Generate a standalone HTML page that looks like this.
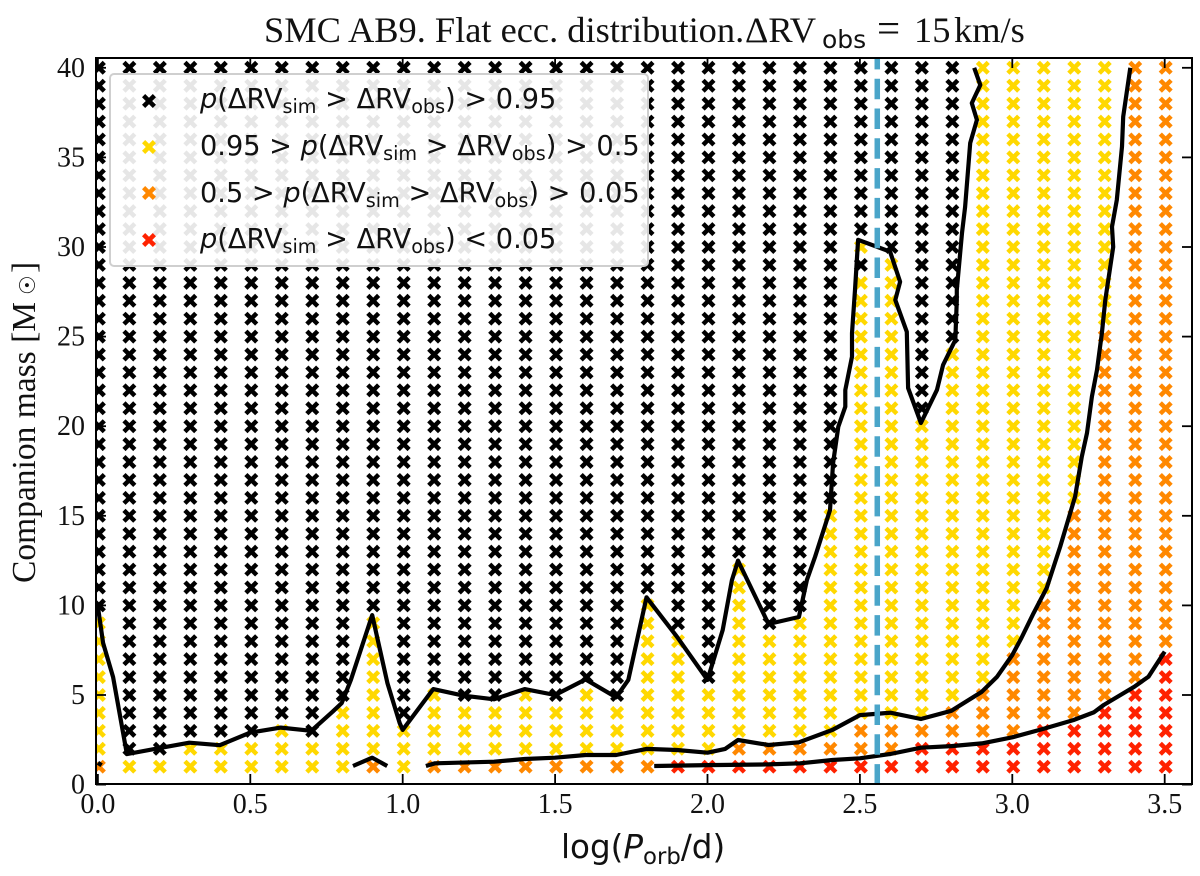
<!DOCTYPE html>
<html lang="en">
<head>
<meta charset="utf-8">
<title>SMC AB9 detection probability chart</title>
<style>
html,body{margin:0;padding:0;background:#fff;}
svg{display:block;}
.serif{font-family:"Liberation Serif",serif;fill:#111;}
.sans{font-family:"DejaVu Sans",sans-serif;fill:#111;}
</style>
</head>
<body>
<svg id="chart" xmlns="http://www.w3.org/2000/svg" width="1200" height="876" viewBox="0 0 1200 876">
<defs><clipPath id="plot-clip"><rect x="96" y="58" width="1096" height="726"/></clipPath></defs>
<rect x="0" y="0" width="1200" height="876" fill="#fff"/>
<g id="markers" clip-path="url(#plot-clip)"></g>
<g id="contours" clip-path="url(#plot-clip)"></g>
<g id="axes"></g>

<g>
<rect x="110" y="74" width="538" height="192" rx="4" fill="#fff" fill-opacity="0.9" stroke="#cfcfcf" stroke-width="2"/>
<g id="legend-markers"></g>
<text class="sans" x="200" y="108" font-size="27.2"><tspan font-style="italic">p</tspan>(ΔRV<tspan font-size="19.2" dy="5">sim</tspan><tspan dy="-5"> &gt; ΔRV</tspan><tspan font-size="19.2" dy="5">obs</tspan><tspan dy="-5">) &gt; 0.95</tspan></text>
<text class="sans" x="200" y="155" font-size="27.2">0.95 &gt; <tspan font-style="italic">p</tspan>(ΔRV<tspan font-size="19.2" dy="5">sim</tspan><tspan dy="-5"> &gt; ΔRV</tspan><tspan font-size="19.2" dy="5">obs</tspan><tspan dy="-5">) &gt; 0.5</tspan></text>
<text class="sans" x="200" y="202" font-size="27.2">0.5 &gt; <tspan font-style="italic">p</tspan>(ΔRV<tspan font-size="19.2" dy="5">sim</tspan><tspan dy="-5"> &gt; ΔRV</tspan><tspan font-size="19.2" dy="5">obs</tspan><tspan dy="-5">) &gt; 0.05</tspan></text>
<text class="sans" x="200" y="248" font-size="27.2"><tspan font-style="italic">p</tspan>(ΔRV<tspan font-size="19.2" dy="5">sim</tspan><tspan dy="-5"> &gt; ΔRV</tspan><tspan font-size="19.2" dy="5">obs</tspan><tspan dy="-5">) &lt; 0.05</tspan></text>
</g>

<text class="serif" x="264" y="42" font-size="36.4">SMC AB9. Flat ecc. distribution.<tspan x="745">ΔRV</tspan><tspan class="sans" font-size="25" x="822" dy="6">obs</tspan><tspan x="877" dy="-6" font-size="41">=</tspan><tspan x="914">15</tspan><tspan x="954">km/s</tspan></text>
<text class="serif" transform="translate(35,583) rotate(-90)" x="0" y="0" font-size="33.5">Companion mass [M<tspan class="sans" font-size="22" x="288">☉</tspan><tspan x="310">]</tspan></text>
<text class="sans" x="561" y="858" font-size="32.6">log(<tspan font-style="italic">P</tspan><tspan font-size="22.8" dy="6">orb</tspan><tspan dy="-6">/d)</tspan></text>

<script>
// Column positions (log orbital period) and mass rows
const periods = [0.0,0.1,0.2,0.3,0.4,0.5,0.6,0.7,0.8,0.9,1.0,1.1,1.2,1.3,1.4,1.5,1.6,1.7,1.8,1.9,2.0,2.1,2.2,2.3,2.4,2.5,2.6,2.7,2.8,2.9,3.0,3.1,3.2,3.3,3.4,3.5];
const massRows = [1,2,3,4,5,6,7,8,9,10,11,12,13,14,15,16,17,18,19,20,21,22,23,24,25,26,27,28,29,30,31,32,33,34,35,36,37,38,39,40];
// Highest mass in each probability class, per column
const redTop    = [0,0,0,0,0,0,0,0,0,0,0,0,0,0,0,0,0,0,0,1,1,1,1,1,1,1,1,2,2,2,2,3,3,4,5,7];
const orangeTop = [1,0,0,0,0,0,0,0,0,1,0,1,1,1,1,1,1,1,1,1,1,2,2,2,2,3,3,3,4,5,7,10,15,25,40,40];
const yellowTop = [9,1,1,2,2,2,3,2,4,9,3,5,4,4,5,4,5,4,10,8,5,12,8,9,15,30,29,20,24,40,40,40,40,40,40,40];
// Single grid points that break the class pattern: period, then mass
const blackExceptionPeriods = [2.5];
const blackExceptionMasses = [29];

// Contour lines
const contourAX = [0.0,0.017,0.05,0.095,0.2,0.3,0.4,0.5,0.6,0.7,0.77,0.8,0.83,0.9,0.95,0.99,1.0,1.1,1.2,1.3,1.4,1.5,1.6,1.7,1.74,1.8,1.9,2.0,2.05,2.08,2.1,2.2,2.3,2.326,2.353,2.402,2.412,2.429,2.452,2.452,2.474,2.474,2.484,2.494,2.599,2.632,2.616,2.654,2.658,2.7,2.753,2.773,2.813,2.818,2.818,2.835,2.845,2.862,2.884,2.867,2.895,2.875];
const contourAY = [9.93,7.9,6.0,1.7,2.03,2.34,2.2,2.9,3.18,3.0,4.07,4.55,5.84,9.46,5.65,3.43,3.05,5.33,4.96,4.76,5.33,5.0,5.87,4.87,5.84,10.45,8.25,5.84,8.63,11.4,12.5,8.96,9.35,11.42,12.72,15.32,17.95,19.97,21.09,22.02,23.88,25.2,27.6,30.4,29.74,28.06,27.04,25.27,22.13,20.18,22.03,23.42,24.81,27.04,27.6,30.78,32.23,35.8,37.09,38.03,39.04,40.0];
const contourBX = [1.076,1.106,1.3,1.4,1.5,1.6,1.7,1.8,1.9,2.0,2.058,2.1,2.2,2.3,2.41,2.5,2.6,2.7,2.8,2.9,2.95,3.0,3.03,3.07,3.113,3.157,3.206,3.228,3.245,3.261,3.278,3.294,3.305,3.331,3.327,3.343,3.36,3.364,3.387];
const contourBY = [1.04,1.19,1.28,1.43,1.5,1.65,1.65,1.99,1.93,1.78,1.99,2.49,2.21,2.36,3.05,3.88,4.01,3.66,4.12,5.18,6.02,7.23,8.18,9.57,10.97,13.28,16.07,18.3,19.62,21.65,23.14,25.2,27.04,30.0,31.13,32.62,35.6,37.27,40.0];
const contourCX = [1.825,2.0,2.2,2.304,2.41,2.5,2.6,2.7,2.8,2.9,3.0,3.1,3.2,3.267,3.3,3.4,3.447,3.5];
const contourCY = [1.04,1.09,1.13,1.19,1.37,1.47,1.71,2.06,2.15,2.3,2.64,3.1,3.6,4.03,4.44,5.46,6.02,7.42];
const contourDX = [0.837,0.9,0.949];
const contourDY = [1.04,1.5,1.04];
const contourEX = [0.0,0.012];
const contourEY = [1.22,1.08];

// Observed period marker
const observedPeriod = [2.557];

// Axis tick labels
const xTicks = [0.0,0.5,1.0,1.5,2.0,2.5,3.0,3.5];
const xTickLabels = ['0.0','0.5','1.0','1.5','2.0','2.5','3.0','3.5'];
const yTicks = [0,5,10,15,20,25,30,35,40];
const yTickLabels = ['0','5','10','15','20','25','30','35','40'];

const NS = 'http://www.w3.org/2000/svg';
const PLOT = {left:96, right:1192, top:58, bottom:784};
function xScale(v){ return 97.9 + 304.8 * v; }
function yScale(v){ return 784.6 - 17.92 * v; }

const COLORS = {black:'#000000', yellow:'#ffd800', orange:'#ff8800', red:'#ff2200'};
function classFor(i, mass){
  for (let k = 0; k < blackExceptionPeriods.length; k++) {
    if (Math.abs(periods[i] - blackExceptionPeriods[k]) < 1e-6 && mass === blackExceptionMasses[k]) return 'black';
  }
  if (mass <= redTop[i]) return 'red';
  if (mass <= orangeTop[i]) return 'orange';
  if (mass <= yellowTop[i]) return 'yellow';
  return 'black';
}
function drawCross(parent, cx, cy, color, halfSize, width){
  const p = document.createElementNS(NS, 'path');
  p.setAttribute('d', 'M' + (cx - halfSize) + ' ' + (cy - halfSize) + 'L' + (cx + halfSize) + ' ' + (cy + halfSize) + 'M' + (cx - halfSize) + ' ' + (cy + halfSize) + 'L' + (cx + halfSize) + ' ' + (cy - halfSize));
  p.setAttribute('stroke', color);
  p.setAttribute('stroke-width', width);
  p.setAttribute('fill', 'none');
  parent.appendChild(p);
  return p;
}

const markersGroup = document.getElementById('markers');
periods.forEach(function(period, i){
  massRows.forEach(function(mass){
    const cls = classFor(i, mass);
    const m = drawCross(markersGroup, xScale(period) + 1, yScale(mass), COLORS[cls], 5.4, 4.5);
    
    
  });
});

const contoursGroup = document.getElementById('contours');
function drawContour(xs, ys, name){
  const d = xs.map(function(x, i){ return (i ? 'L' : 'M') + xScale(x).toFixed(1) + ' ' + yScale(ys[i]).toFixed(1); }).join('');
  const p = document.createElementNS(NS, 'path');
  p.setAttribute('d', d);
  p.setAttribute('fill', 'none');
  p.setAttribute('stroke', '#000');
  p.setAttribute('stroke-width', '4.2');
  p.setAttribute('stroke-linejoin', 'round');
  
  
  contoursGroup.appendChild(p);
}
drawContour(contourAX, contourAY, 'contour-p95');
drawContour(contourBX, contourBY, 'contour-p50');
drawContour(contourCX, contourCY, 'contour-p05');
drawContour(contourDX, contourDY, 'contour-p50-fragment');
drawContour(contourEX, contourEY, 'contour-corner-fragment');

const obsLine = document.createElementNS(NS, 'line');
obsLine.setAttribute('x1', xScale(observedPeriod[0]));
obsLine.setAttribute('x2', xScale(observedPeriod[0]));
obsLine.setAttribute('y1', yScale(0));
obsLine.setAttribute('y2', PLOT.top);
obsLine.setAttribute('stroke', '#4aa5c9');
obsLine.setAttribute('stroke-width', '5.5');
obsLine.setAttribute('stroke-dasharray', '20.5 9.3');


contoursGroup.appendChild(obsLine);

const axesGroup = document.getElementById('axes');
function addLine(x1, y1, x2, y2, width, name){
  const l = document.createElementNS(NS, 'line');
  l.setAttribute('x1', x1); l.setAttribute('y1', y1);
  l.setAttribute('x2', x2); l.setAttribute('y2', y2);
  l.setAttribute('stroke', '#000');
  l.setAttribute('stroke-width', width);
  
  
  axesGroup.appendChild(l);
}
function addLabel(x, y, text, anchor, name){
  const t = document.createElementNS(NS, 'text');
  t.setAttribute('x', x); t.setAttribute('y', y);
  t.setAttribute('text-anchor', anchor);
  t.setAttribute('class', 'serif');
  t.setAttribute('font-size', '28');
  
  
  t.textContent = text;
  axesGroup.appendChild(t);
}
xTicks.forEach(function(v, i){
  const x = xScale(v);
  addLine(x, PLOT.bottom, x, PLOT.bottom - 10, 1.8, 'x-tick-bottom');
  addLine(x, PLOT.top, x, PLOT.top + 10, 1.8, 'x-tick-top');
  addLabel(x, 813, xTickLabels[i], 'middle', 'x-tick-label');
});
yTicks.forEach(function(v, i){
  const y = yScale(v);
  addLine(PLOT.left, y, PLOT.left + 10, y, 1.8, 'y-tick-left');
  addLine(PLOT.right, y, PLOT.right - 10, y, 1.8, 'y-tick-right');
  addLabel(85, y + 9, yTickLabels[i], 'end', 'y-tick-label');
});
addLine(PLOT.left, PLOT.top, PLOT.right, PLOT.top, 2, 'top-spine');
addLine(PLOT.left, PLOT.bottom, PLOT.right, PLOT.bottom, 2, 'bottom-spine');
addLine(PLOT.left, PLOT.top - 1, PLOT.left, PLOT.bottom + 1, 2, 'left-spine');
addLine(PLOT.right, PLOT.top - 1, PLOT.right, PLOT.bottom + 1, 2, 'right-spine');

const legendGroup = document.getElementById('legend-markers');
const legendColors = ['black','yellow','orange','red'];
const legendRowY = [101,147,193,240];
legendColors.forEach(function(c, i){
  const m = drawCross(legendGroup, 149, legendRowY[i], COLORS[c], 5.4, 4.5);
  
  
});
</script>
</svg>
</body>
</html>
